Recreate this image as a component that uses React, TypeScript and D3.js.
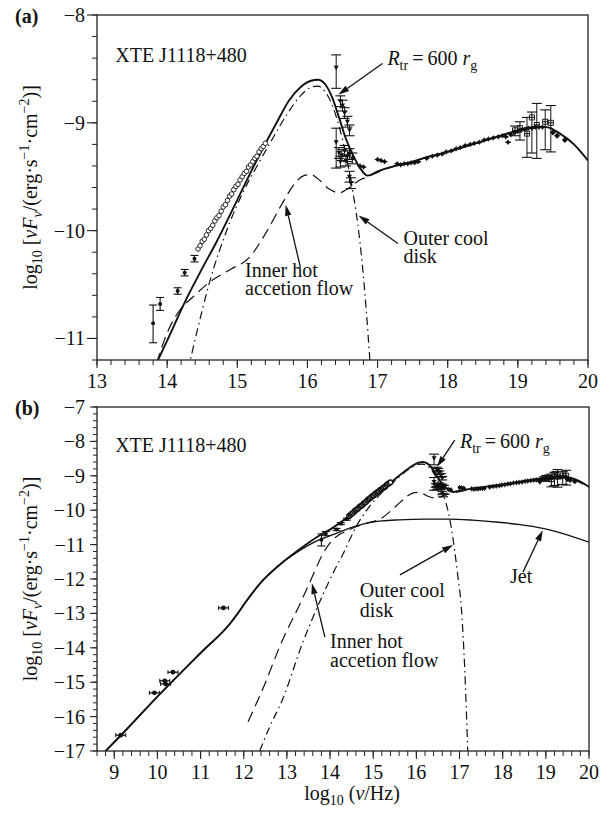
import React from 'react';
import * as d3 from 'd3';

const FONT = '"Liberation Serif", "Times New Roman", Times, "DejaVu Serif", serif';

// ---- model curves [log nu, log nuFnu] ----
const totalA: [number, number][] = [
  [13.87, -11.2], [14.0, -11.02], [14.27, -10.64], [14.5, -10.35], [14.7, -10.11], [14.9, -9.85],
  [15.1, -9.58], [15.3, -9.32], [15.56, -9.0], [15.74, -8.79], [15.9, -8.67], [16.05, -8.61],
  [16.15, -8.6], [16.25, -8.64], [16.35, -8.76], [16.45, -8.95], [16.55, -9.15], [16.65, -9.3],
  [16.75, -9.42], [16.86, -9.49], [17.0, -9.45], [17.25, -9.4], [17.5, -9.36], [17.75, -9.31],
  [18.0, -9.27], [18.25, -9.22], [18.5, -9.17], [18.75, -9.12], [19.0, -9.07], [19.2, -9.04],
  [19.4, -9.04], [19.6, -9.1], [19.8, -9.2], [20.0, -9.35],
];
const hotFlow: [number, number][] = [
  [12.1, -16.15], [12.44, -15.2], [12.9, -13.77], [13.29, -12.76], [13.6, -11.9], [13.82, -11.3],
  [14.0, -10.95], [14.2, -10.72], [14.36, -10.62], [14.6, -10.48], [14.9, -10.36], [15.17, -10.25],
  [15.4, -10.03], [15.64, -9.75], [15.8, -9.58], [15.95, -9.49], [16.05, -9.48], [16.15, -9.52],
  [16.3, -9.61], [16.45, -9.65], [16.6, -9.6], [16.75, -9.53], [16.86, -9.5], [17.0, -9.46],
  [17.25, -9.4], [17.5, -9.36], [17.75, -9.31], [18.0, -9.27], [18.25, -9.22], [18.5, -9.17],
  [18.75, -9.12], [19.0, -9.07], [19.2, -9.04], [19.4, -9.04], [19.6, -9.1], [19.8, -9.2], [20.0, -9.35],
];
const outerDisk: [number, number][] = [
  [12.37, -17.0], [12.6, -16.3], [12.9, -15.5], [13.36, -13.87], [13.8, -12.55], [14.1, -11.75],
  [14.33, -11.2], [14.42, -10.95], [14.6, -10.49], [14.89, -9.93], [15.1, -9.62], [15.3, -9.38],
  [15.5, -9.15], [15.7, -8.93], [15.9, -8.75], [16.05, -8.67], [16.15, -8.66], [16.25, -8.71],
  [16.35, -8.83], [16.45, -9.03], [16.55, -9.3], [16.65, -9.65], [16.72, -9.95], [16.78, -10.3],
  [16.84, -10.75], [16.89, -11.2], [16.96, -11.9], [17.04, -12.8], [17.12, -14.6], [17.19, -17.0],
];
const totalB: [number, number][] = [
  [8.8, -17.0], [9.15, -16.55], [10.0, -15.42], [11.0, -14.15], [11.68, -13.3], [11.85, -13.02],
  [12.05, -12.66], [12.4, -12.1], [12.8, -11.62], [13.31, -11.12], [13.8, -10.7], [14.05, -10.52],
  [14.5, -10.12], [14.8, -9.84], [15.1, -9.52], [15.5, -9.1], [15.8, -8.8], [16.05, -8.62],
  [16.15, -8.6], [16.25, -8.64], [16.35, -8.76], [16.45, -8.95], [16.55, -9.15], [16.65, -9.3],
  [16.75, -9.41], [16.86, -9.47], [17.0, -9.43], [17.25, -9.38], [17.5, -9.34], [17.75, -9.29],
  [18.0, -9.25], [18.25, -9.2], [18.5, -9.15], [18.75, -9.1], [19.0, -9.05], [19.2, -9.02],
  [19.4, -9.02], [19.6, -9.07], [19.8, -9.17], [20.0, -9.32],
];
const jet: [number, number][] = [
  [8.8, -17.0], [9.15, -16.55], [10.0, -15.42], [11.0, -14.15], [11.68, -13.3], [11.85, -13.02],
  [12.05, -12.66], [12.4, -12.1], [12.8, -11.62], [13.3, -11.17], [13.6, -10.95], [14.05, -10.72],
  [14.5, -10.5], [14.83, -10.38], [15.2, -10.31], [15.6, -10.28], [16.2, -10.26], [16.75, -10.26],
  [17.3, -10.29], [17.9, -10.35], [18.4, -10.42], [18.9, -10.52], [19.4, -10.68], [20.0, -10.93],
];

// ---- observations ----
const radioX = [9.15, 9.93, 10.17, 10.19, 10.36, 11.53];
const radioY = [-16.54, -15.31, -14.96, -15.05, -14.71, -12.84];

const irX = [13.8, 13.9, 14.15, 14.25, 14.39];
const irY = [-10.86, -10.68, -10.56, -10.39, -10.26];
const irLo = [-11.04, -10.74, -10.59, -10.42, -10.29];
const irHi = [-10.69, -10.62, -10.53, -10.36, -10.23];

const optX = [14.44, 14.47, 14.5, 14.53, 14.56, 14.59, 14.62, 14.65, 14.68, 14.71, 14.74, 14.77, 14.8,
  14.83, 14.86, 14.89, 14.92, 14.95, 14.98, 15.01, 15.04, 15.07, 15.1, 15.13, 15.16, 15.19, 15.22,
  15.25, 15.28, 15.31, 15.34, 15.37, 15.4];
const optY = [-10.17, -10.14, -10.1, -10.08, -10.04, -10.0, -9.98, -9.95, -9.91, -9.88, -9.86, -9.82,
  -9.78, -9.76, -9.72, -9.68, -9.66, -9.62, -9.59, -9.57, -9.53, -9.5, -9.47, -9.45, -9.41, -9.39,
  -9.36, -9.33, -9.31, -9.27, -9.24, -9.22, -9.19];

const uvX = [16.41, 16.47, 16.5, 16.53, 16.57, 16.6, 16.41, 16.45, 16.49, 16.53, 16.57, 16.6, 16.64,
  16.47, 16.55, 16.6, 16.62];
const uvY = [-8.49, -8.8, -8.84, -8.91, -8.99, -9.07, -9.18, -9.28, -9.3, -9.26, -9.31, -9.29, -9.33,
  -9.36, -9.35, -9.5, -9.56];
const uvLo = [-8.68, -8.85, -8.89, -8.96, -9.04, -9.12, -9.42, -9.33, -9.35, -9.31, -9.36, -9.34, -9.38,
  -9.41, -9.4, -9.55, -9.61];
const uvHi = [-8.37, -8.75, -8.79, -8.86, -8.94, -9.02, -9.05, -9.23, -9.25, -9.21, -9.26, -9.24, -9.28,
  -9.31, -9.3, -9.45, -9.51];

const xrX = [16.75, 16.8, 17.0, 17.05, 17.1, 17.28, 17.33, 17.38, 17.43, 17.48, 17.53, 17.58, 17.7,
  17.78, 17.85, 17.92, 17.98, 18.05, 18.12, 18.18, 18.25, 18.32, 18.38, 18.45, 18.52, 18.58, 18.65,
  18.72, 18.78, 18.83, 18.86, 18.9, 18.95, 19.0, 19.05, 19.1, 19.15, 19.2, 19.25, 19.3, 19.35];
const xrY = [-9.4, -9.41, -9.34, -9.35, -9.36, -9.38, -9.39, -9.38, -9.38, -9.37, -9.37, -9.36, -9.33,
  -9.31, -9.3, -9.29, -9.27, -9.26, -9.24, -9.23, -9.21, -9.2, -9.19, -9.18, -9.16, -9.15, -9.14,
  -9.13, -9.12, -9.13, -9.18, -9.11, -9.09, -9.08, -9.07, -9.06, -9.05, -9.05, -9.04, -9.04, -9.04];

const hxX = [18.96, 19.03, 19.13, 19.2, 19.27, 19.39, 19.47];
const hxY = [-9.07, -9.05, -9.1, -8.95, -9.02, -8.99, -9.0];
const hxLo = [-9.12, -9.16, -9.32, -9.28, -9.33, -9.25, -9.27];
const hxHi = [-9.03, -8.99, -8.95, -8.9, -8.82, -8.88, -8.84];

const gX = [19.5, 19.56, 19.67];
const gY = [-9.09, -9.12, -9.16];

const xTicksA = [13, 14, 15, 16, 17, 18, 19, 20];
const yTicksA = [-8, -9, -10, -11];
const xTicksB = [9, 10, 11, 12, 13, 14, 15, 16, 17, 18, 19, 20];
const yTicksB = [-7, -8, -9, -10, -11, -12, -13, -14, -15, -16, -17];

type Sc = d3.ScaleLinear<number, number>;

const TS: React.CSSProperties = { fontFamily: FONT };

function fmt(v: number) {
  return v < 0 ? '\u2212' + Math.abs(v) : String(v);
}

function Arrow({ x1, y1, x2, y2 }: { x1: number; y1: number; x2: number; y2: number }) {
  const ang = Math.atan2(y2 - y1, x2 - x1);
  const L = 11, W = 3.2;
  const bx = x2 - L * Math.cos(ang), by = y2 - L * Math.sin(ang);
  const px = -Math.sin(ang) * W, py = Math.cos(ang) * W;
  return (
    <g>
      <line x1={x1} y1={y1} x2={bx} y2={by} stroke="#111" strokeWidth={1.3} />
      <path d={`M${x2},${y2}L${bx + px},${by + py}L${bx - px},${by - py}Z`} fill="#111" />
    </g>
  );
}

function Rtr({ x, y }: { x: number; y: number }) {
  return (
    <text x={x} y={y} style={TS} fontSize={20} fill="#111">
      <tspan fontStyle="italic">R</tspan>
      <tspan fontSize={14} dy={5}>tr</tspan>
      <tspan dy={-5}>{'\u2009=\u2009600 '}</tspan>
      <tspan fontStyle="italic">r</tspan>
      <tspan fontSize={14} dy={5}>g</tspan>
    </text>
  );
}

function YLabel({ x, y }: { x: number; y: number }) {
  return (
    <text transform={`translate(${x},${y}) rotate(-90)`} textAnchor="middle" style={TS} fontSize={20} fill="#111">
      <tspan>log</tspan>
      <tspan fontSize={14} dy={5}>10</tspan>
      <tspan dy={-5}>{' ['}</tspan>
      <tspan fontStyle="italic">{'\u03bdF'}</tspan>
      <tspan fontStyle="italic" fontSize={14} dy={5}>{'\u03bd'}</tspan>
      <tspan dy={-5}>{'/(erg\u00b7s'}</tspan>
      <tspan fontSize={14} dy={-8}>{'\u22121'}</tspan>
      <tspan dy={8}>{'\u00b7cm'}</tspan>
      <tspan fontSize={14} dy={-8}>{'\u22122'}</tspan>
      <tspan dy={8}>{')]'}</tspan>
    </text>
  );
}

function Panel({ id, x, y, xTicks, yTicks, yMajorLen, yMinorLen, showRadio, showJet, total, label,
  ann, circStroke }: {
  id: string; x: Sc; y: Sc; xTicks: number[]; yTicks: number[]; yMajorLen: number; yMinorLen: number;
  showRadio: boolean; showJet: boolean; total: [number, number][]; label: string; ann: React.ReactNode;
  circStroke: number;
}) {
  const [x0, x1] = x.range();
  const [y0, y1] = y.range();
  const [dx0, dx1] = x.domain();
  const [dy0, dy1] = y.domain();
  const line = d3.line<[number, number]>().x(d => x(d[0])).y(d => y(d[1])).curve(d3.curveMonotoneX);
  const xMinor = d3.range(Math.round((dx1 - dx0) / 0.2) + 1).map(i => dx0 + i * 0.2);
  const yMinor = d3.range(Math.round((dy0 - dy1) / 0.2) + 1).map(i => dy0 - i * 0.2);
  const clip = `clip-${id}`;
  const ink = '#111';
  return (
    <g>
      <defs>
        <clipPath id={clip}>
          <rect x={x0} y={y0} width={x1 - x0} height={y1 - y0} />
        </clipPath>
      </defs>
      <g clipPath={`url(#${clip})`}>
        {showJet && <path d={line(jet) || ''} fill="none" stroke={ink} strokeWidth={1.3} />}
        <path d={line(outerDisk) || ''} fill="none" stroke={ink} strokeWidth={1.2} strokeDasharray="8,4,1.5,4" />
        <path d={line(hotFlow) || ''} fill="none" stroke={ink} strokeWidth={1.2} strokeDasharray="11,6" />
        <path d={line(total) || ''} fill="none" stroke={ink} strokeWidth={1.9} />
        {showRadio && radioX.map((v, i) => (
          <g key={'r' + i}>
            <line x1={x(v) - 5} x2={x(v) + 5} y1={y(radioY[i])} y2={y(radioY[i])} stroke={ink} strokeWidth={1.3} />
            <line x1={x(v) - 5} x2={x(v) - 5} y1={y(radioY[i]) - 2} y2={y(radioY[i]) + 2} stroke={ink} strokeWidth={1} />
            <line x1={x(v) + 5} x2={x(v) + 5} y1={y(radioY[i]) - 2} y2={y(radioY[i]) + 2} stroke={ink} strokeWidth={1} />
            <circle cx={x(v)} cy={y(radioY[i])} r={2.4} fill={ink} />
          </g>
        ))}
        {irX.map((v, i) => (
          <g key={'ir' + i}>
            <line x1={x(v)} x2={x(v)} y1={y(irLo[i])} y2={y(irHi[i])} stroke={ink} strokeWidth={1.1} />
            <line x1={x(v) - 4} x2={x(v) + 4} y1={y(irLo[i])} y2={y(irLo[i])} stroke={ink} strokeWidth={1.1} />
            <line x1={x(v) - 4} x2={x(v) + 4} y1={y(irHi[i])} y2={y(irHi[i])} stroke={ink} strokeWidth={1.1} />
            <circle cx={x(v)} cy={y(irY[i])} r={2} fill={ink} />
          </g>
        ))}
        {optX.map((v, i) => (
          <circle key={'o' + i} cx={x(v)} cy={y(optY[i])} r={2.3} fill="#fff" stroke={ink} strokeWidth={circStroke} />
        ))}
        {uvX.map((v, i) => {
          const cx = x(v), cy = y(uvY[i]);
          return (
            <g key={'uv' + i}>
              <line x1={cx} x2={cx} y1={y(uvLo[i])} y2={y(uvHi[i])} stroke={ink} strokeWidth={1} />
              <line x1={cx - 5} x2={cx + 5} y1={y(uvLo[i])} y2={y(uvLo[i])} stroke={ink} strokeWidth={1.1} />
              <line x1={cx - 5} x2={cx + 5} y1={y(uvHi[i])} y2={y(uvHi[i])} stroke={ink} strokeWidth={1.1} />
              <path d={`M${cx - 2.5},${cy - 2}L${cx + 2.5},${cy - 2}L${cx},${cy + 2.5}Z`} fill={ink} />
            </g>
          );
        })}
        {xrX.map((v, i) => {
          const cx = x(v), cy = y(xrY[i]);
          return (
            <g key={'xr' + i}>
              <line x1={x(v - 0.04)} x2={x(v + 0.04)} y1={cy} y2={cy} stroke={ink} strokeWidth={1.3} />
              <line x1={cx} x2={cx} y1={cy - 2.5} y2={cy + 2.5} stroke={ink} strokeWidth={1} />
              <circle cx={cx} cy={cy} r={1.8} fill={ink} />
            </g>
          );
        })}
        {hxX.map((v, i) => {
          const cx = x(v), cy = y(hxY[i]);
          return (
            <g key={'hx' + i}>
              <line x1={cx} x2={cx} y1={y(hxLo[i])} y2={y(hxHi[i])} stroke={ink} strokeWidth={1} />
              <line x1={cx - 5} x2={cx + 5} y1={y(hxLo[i])} y2={y(hxLo[i])} stroke={ink} strokeWidth={1.1} />
              <line x1={cx - 5} x2={cx + 5} y1={y(hxHi[i])} y2={y(hxHi[i])} stroke={ink} strokeWidth={1.1} />
              <line x1={x(v - 0.04)} x2={x(v + 0.04)} y1={cy} y2={cy} stroke={ink} strokeWidth={1} />
              <rect x={cx - 2.5} y={cy - 2.5} width={5} height={5} fill="none" stroke={ink} strokeWidth={0.9} />
            </g>
          );
        })}
        {gX.map((v, i) => {
          const cx = x(v), cy = y(gY[i]);
          return <path key={'g' + i} d={`M${cx},${cy - 3}L${cx + 3},${cy}L${cx},${cy + 3}L${cx - 3},${cy}Z`} fill={ink} />;
        })}
      </g>
      <rect x={x0} y={y0} width={x1 - x0} height={y1 - y0} fill="none" stroke="#222" strokeWidth={1.3} />
      {xMinor.map((v, i) => (
        <line key={'xm' + i} x1={x(v)} x2={x(v)} y1={y1} y2={y1 + 5} stroke="#222" strokeWidth={1} />
      ))}
      {xTicks.map(v => (
        <g key={'xt' + v}>
          <line x1={x(v)} x2={x(v)} y1={y1} y2={y1 + 8} stroke="#222" strokeWidth={1.1} />
          <text x={x(v)} y={y1 + 28} textAnchor="middle" style={TS} fontSize={20} fill="#111">{v}</text>
        </g>
      ))}
      {yMinor.map((v, i) => (
        <line key={'ym' + i} x1={x0 - yMinorLen} x2={x0} y1={y(v)} y2={y(v)} stroke="#222" strokeWidth={1} />
      ))}
      {yTicks.map(v => (
        <g key={'yt' + v}>
          <line x1={x0 - yMajorLen} x2={x0} y1={y(v)} y2={y(v)} stroke="#222" strokeWidth={1.1} />
          <text x={x0 - 12} y={y(v) + 7} textAnchor="end" style={TS} fontSize={20} fill="#111">{fmt(v)}</text>
        </g>
      ))}
      <text x={15} y={y0 + 8} style={TS} fontSize={20} fontWeight="bold" fill="#111">{label}</text>
      <YLabel x={37} y={(y0 + y1) / 2} />
      {ann}
    </g>
  );
}

export default function App() {
  const xA = d3.scaleLinear().domain([13, 20]).range([97, 588]);
  const yA = d3.scaleLinear().domain([-8, -11.2]).range([15, 360]);
  const xB = d3.scaleLinear().domain([8.6, 20]).range([97, 589]);
  const yB = d3.scaleLinear().domain([-7, -17]).range([407, 751]);
  const T = (props: { x: number; y: number; children: React.ReactNode }) => (
    <text x={props.x} y={props.y} style={TS} fontSize={20} fill="#111">{props.children}</text>
  );
  const annA = (
    <g>
      <T x={xA(13.26)} y={yA(-8.44)}>XTE J1118+480</T>
      <Rtr x={xA(17.14)} y={yA(-8.46)} />
      <Arrow x1={xA(17.07)} y1={yA(-8.45)} x2={xA(16.44)} y2={yA(-8.74)} />
      <T x={xA(17.37)} y={yA(-10.13)}>Outer cool</T>
      <T x={xA(17.37)} y={yA(-10.3)}>disk</T>
      <Arrow x1={xA(17.29)} y1={yA(-10.12)} x2={xA(16.73)} y2={yA(-9.86)} />
      <T x={xA(15.11)} y={yA(-10.43)}>Inner hot</T>
      <T x={xA(15.11)} y={yA(-10.6)}>accetion flow</T>
      <Arrow x1={xA(15.9)} y1={yA(-10.34)} x2={xA(15.69)} y2={yA(-9.76)} />
    </g>
  );
  const annB = (
    <g>
      <T x={xB(9.02)} y={yB(-8.31)}>XTE J1118+480</T>
      <Rtr x={xB(17.01)} y={yB(-8.19)} />
      <Arrow x1={xB(16.89)} y1={yB(-7.96)} x2={xB(16.48)} y2={yB(-8.74)} />
      <T x={xB(18.17)} y={yB(-12.12)}>Jet</T>
      <Arrow x1={xB(18.47)} y1={yB(-11.8)} x2={xB(18.93)} y2={yB(-10.58)} />
      <T x={xB(14.69)} y={yB(-12.52)}>Outer cool</T>
      <T x={xB(14.69)} y={yB(-13.1)}>disk</T>
      <Arrow x1={xB(15.62)} y1={yB(-11.88)} x2={xB(16.85)} y2={yB(-11.01)} />
      <T x={xB(14.0)} y={yB(-14.0)}>Inner hot</T>
      <T x={xB(14.0)} y={yB(-14.55)}>accetion flow</T>
      <Arrow x1={xB(13.88)} y1={yB(-13.69)} x2={xB(13.58)} y2={yB(-12.12)} />
      <text x={352} y={800} textAnchor="middle" style={TS} fontSize={20} fill="#111">
        <tspan>log</tspan>
        <tspan fontSize={14} dy={5}>10</tspan>
        <tspan dy={-5}>{' ('}</tspan>
        <tspan fontStyle="italic">{'\u03bd'}</tspan>
        <tspan>/Hz)</tspan>
      </text>
    </g>
  );
  return (
    <svg width={611} height={815} style={{ position: 'absolute', left: 0, top: 0, background: '#fff' }}>
      <rect width={611} height={815} fill="#fff" />
      <Panel id="a" x={xA} y={yA} xTicks={xTicksA} yTicks={yTicksA} yMajorLen={10} yMinorLen={5}
        showRadio={false} showJet={false} total={totalA} label="(a)" ann={annA} circStroke={0.9} />
      <Panel id="b" x={xB} y={yB} xTicks={xTicksB} yTicks={yTicksB} yMajorLen={7} yMinorLen={4}
        showRadio={true} showJet={true} total={totalB} label="(b)" ann={annB} circStroke={1.4} />
    </svg>
  );
}
